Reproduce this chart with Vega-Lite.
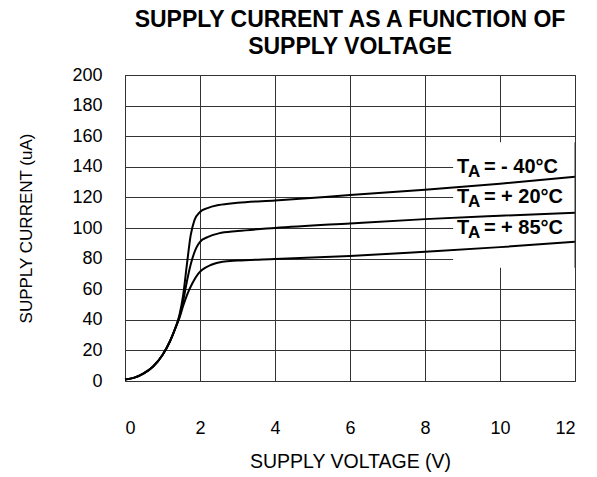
{
  "$schema": "https://vega.github.io/schema/vega-lite/v6.json",
  "width": 450,
  "height": 306,
  "autosize": {"type": "none"},
  "padding": {"left": 125, "top": 75, "right": 22, "bottom": 96},
  "background": "white",
  "config": {
    "font": "Liberation Sans",
    "view": {"stroke": "#333333", "strokeWidth": 1},
    "axis": {"zindex": 0, "gridColor": "#333333", "gridOpacity": 1, "gridWidth": 1, "domain": false, "ticks": false, "labelColor": "black", "titleColor": "black", "labelFont": "Liberation Sans", "titleFont": "Liberation Sans", "titleFontWeight": "normal"}
  },
  "title": {
    "text": ["SUPPLY CURRENT AS A FUNCTION OF", "SUPPLY VOLTAGE"],
    "font": "Liberation Sans",
    "fontSize": 23,
    "fontWeight": "bold",
    "color": "black",
    "lineHeight": 27,
    "anchor": "middle",
    "offset": 7
  },
  "datasets": {
    "curves": [
      {"v": 0, "i": 1, "s": "-40"}, {"v": 0.25, "i": 2.2, "s": "-40"}, {"v": 0.5, "i": 5, "s": "-40"}, {"v": 0.75, "i": 9.5, "s": "-40"}, {"v": 1.0, "i": 17, "s": "-40"}, {"v": 1.2, "i": 26, "s": "-40"}, {"v": 1.35, "i": 35, "s": "-40"}, {"v": 1.45, "i": 43, "s": "-40"},
      {"v": 1.55, "i": 56, "s": "-40"}, {"v": 1.65, "i": 76, "s": "-40"}, {"v": 1.75, "i": 95, "s": "-40"}, {"v": 1.85, "i": 105, "s": "-40"}, {"v": 2.0, "i": 110.5, "s": "-40"}, {"v": 2.2, "i": 113, "s": "-40"}, {"v": 2.5, "i": 115, "s": "-40"}, {"v": 3, "i": 116.5, "s": "-40"}, {"v": 4, "i": 118, "s": "-40"}, {"v": 6, "i": 121.5, "s": "-40"}, {"v": 8, "i": 125, "s": "-40"}, {"v": 10, "i": 129, "s": "-40"}, {"v": 12, "i": 133.5, "s": "-40"},
      {"v": 0, "i": 1, "s": "20"}, {"v": 0.25, "i": 2.2, "s": "20"}, {"v": 0.5, "i": 5, "s": "20"}, {"v": 0.75, "i": 9.5, "s": "20"}, {"v": 1.0, "i": 17, "s": "20"}, {"v": 1.2, "i": 26, "s": "20"}, {"v": 1.35, "i": 35, "s": "20"}, {"v": 1.45, "i": 42, "s": "20"},
      {"v": 1.55, "i": 52, "s": "20"}, {"v": 1.65, "i": 65, "s": "20"}, {"v": 1.75, "i": 76, "s": "20"}, {"v": 1.9, "i": 87, "s": "20"}, {"v": 2.0, "i": 91, "s": "20"}, {"v": 2.2, "i": 94, "s": "20"}, {"v": 2.5, "i": 96.5, "s": "20"}, {"v": 3, "i": 98, "s": "20"}, {"v": 4, "i": 100, "s": "20"}, {"v": 6, "i": 103, "s": "20"}, {"v": 8, "i": 105.8, "s": "20"}, {"v": 10, "i": 108, "s": "20"}, {"v": 12, "i": 110, "s": "20"},
      {"v": 0, "i": 1, "s": "85"}, {"v": 0.25, "i": 2.2, "s": "85"}, {"v": 0.5, "i": 5, "s": "85"}, {"v": 0.75, "i": 9.5, "s": "85"}, {"v": 1.0, "i": 17, "s": "85"}, {"v": 1.2, "i": 26, "s": "85"}, {"v": 1.35, "i": 35, "s": "85"}, {"v": 1.45, "i": 41, "s": "85"},
      {"v": 1.55, "i": 49, "s": "85"}, {"v": 1.65, "i": 56, "s": "85"}, {"v": 1.8, "i": 64, "s": "85"}, {"v": 1.95, "i": 70, "s": "85"}, {"v": 2.05, "i": 72.5, "s": "85"}, {"v": 2.3, "i": 76, "s": "85"}, {"v": 2.6, "i": 78, "s": "85"}, {"v": 3, "i": 78.7, "s": "85"}, {"v": 4, "i": 79.7, "s": "85"}, {"v": 6, "i": 81.7, "s": "85"}, {"v": 8, "i": 84.5, "s": "85"}, {"v": 10, "i": 87.5, "s": "85"}, {"v": 12, "i": 91, "s": "85"}
    ],
    "labels": [
      {"v": 8.85, "i": 140, "t": "T", "sub": "A", "rest": " = - 40°C"},
      {"v": 8.85, "i": 120, "t": "T", "sub": "A", "rest": " = + 20°C"},
      {"v": 8.85, "i": 100, "t": "T", "sub": "A", "rest": " = + 85°C"}
    ],
    "box": [{"x1": 8.75, "x2": 12, "y1": 74, "y2": 156}]
  },
  "encoding": {
    "x": {"field": "v", "type": "quantitative", "scale": {"domain": [0, 12], "nice": false},
      "axis": {"values": [0, 2, 4, 6, 8, 10, 12], "title": "SUPPLY VOLTAGE (V)", "labelFontSize": 18, "titleFontSize": 19.5, "labelPadding": 38, "titlePadding": 15, "grid": true}},
    "y": {"field": "i", "type": "quantitative", "scale": {"domain": [0, 200], "nice": false},
      "axis": {"values": [0, 20, 40, 60, 80, 100, 120, 140, 160, 180, 200], "title": "SUPPLY CURRENT (uA)", "labelFontSize": 18, "titleFontSize": 17, "labelPadding": 23, "titlePadding": 36, "grid": true}}
  },
  "layer": [
    {
      "data": {"name": "box"},
      "mark": {"type": "rect", "fill": "white", "fillOpacity": 1, "strokeWidth": 0},
      "encoding": {
        "x": {"field": "x1", "type": "quantitative"},
        "x2": {"field": "x2"},
        "y": {"field": "y1", "type": "quantitative"},
        "y2": {"field": "y2"}
      }
    },
    {
      "data": {"name": "curves"},
      "mark": {"type": "line", "color": "black", "strokeWidth": 2, "interpolate": "monotone"},
      "encoding": {"detail": {"field": "s", "type": "nominal"}}
    },
    {
      "data": {"name": "box"},
      "mark": {"type": "rule", "color": "#333333", "strokeWidth": 1},
      "encoding": {"x": {"field": "x2", "type": "quantitative"}, "y": {"field": "y1", "type": "quantitative"}, "y2": {"field": "y2"}}
    },
    {
      "data": {"name": "labels"},
      "mark": {"type": "text", "align": "left", "baseline": "middle", "fontSize": 20, "fontWeight": "bold", "color": "black"},
      "encoding": {"text": {"field": "t"}}
    },
    {
      "data": {"name": "labels"},
      "mark": {"type": "text", "align": "left", "baseline": "middle", "fontSize": 17, "fontWeight": "bold", "color": "black", "dx": 11, "dy": 5},
      "encoding": {"text": {"field": "sub"}}
    },
    {
      "data": {"name": "labels"},
      "mark": {"type": "text", "align": "left", "baseline": "middle", "fontSize": 20, "fontWeight": "bold", "color": "black", "dx": 27},
      "encoding": {"text": {"field": "rest"}}
    }
  ]
}
